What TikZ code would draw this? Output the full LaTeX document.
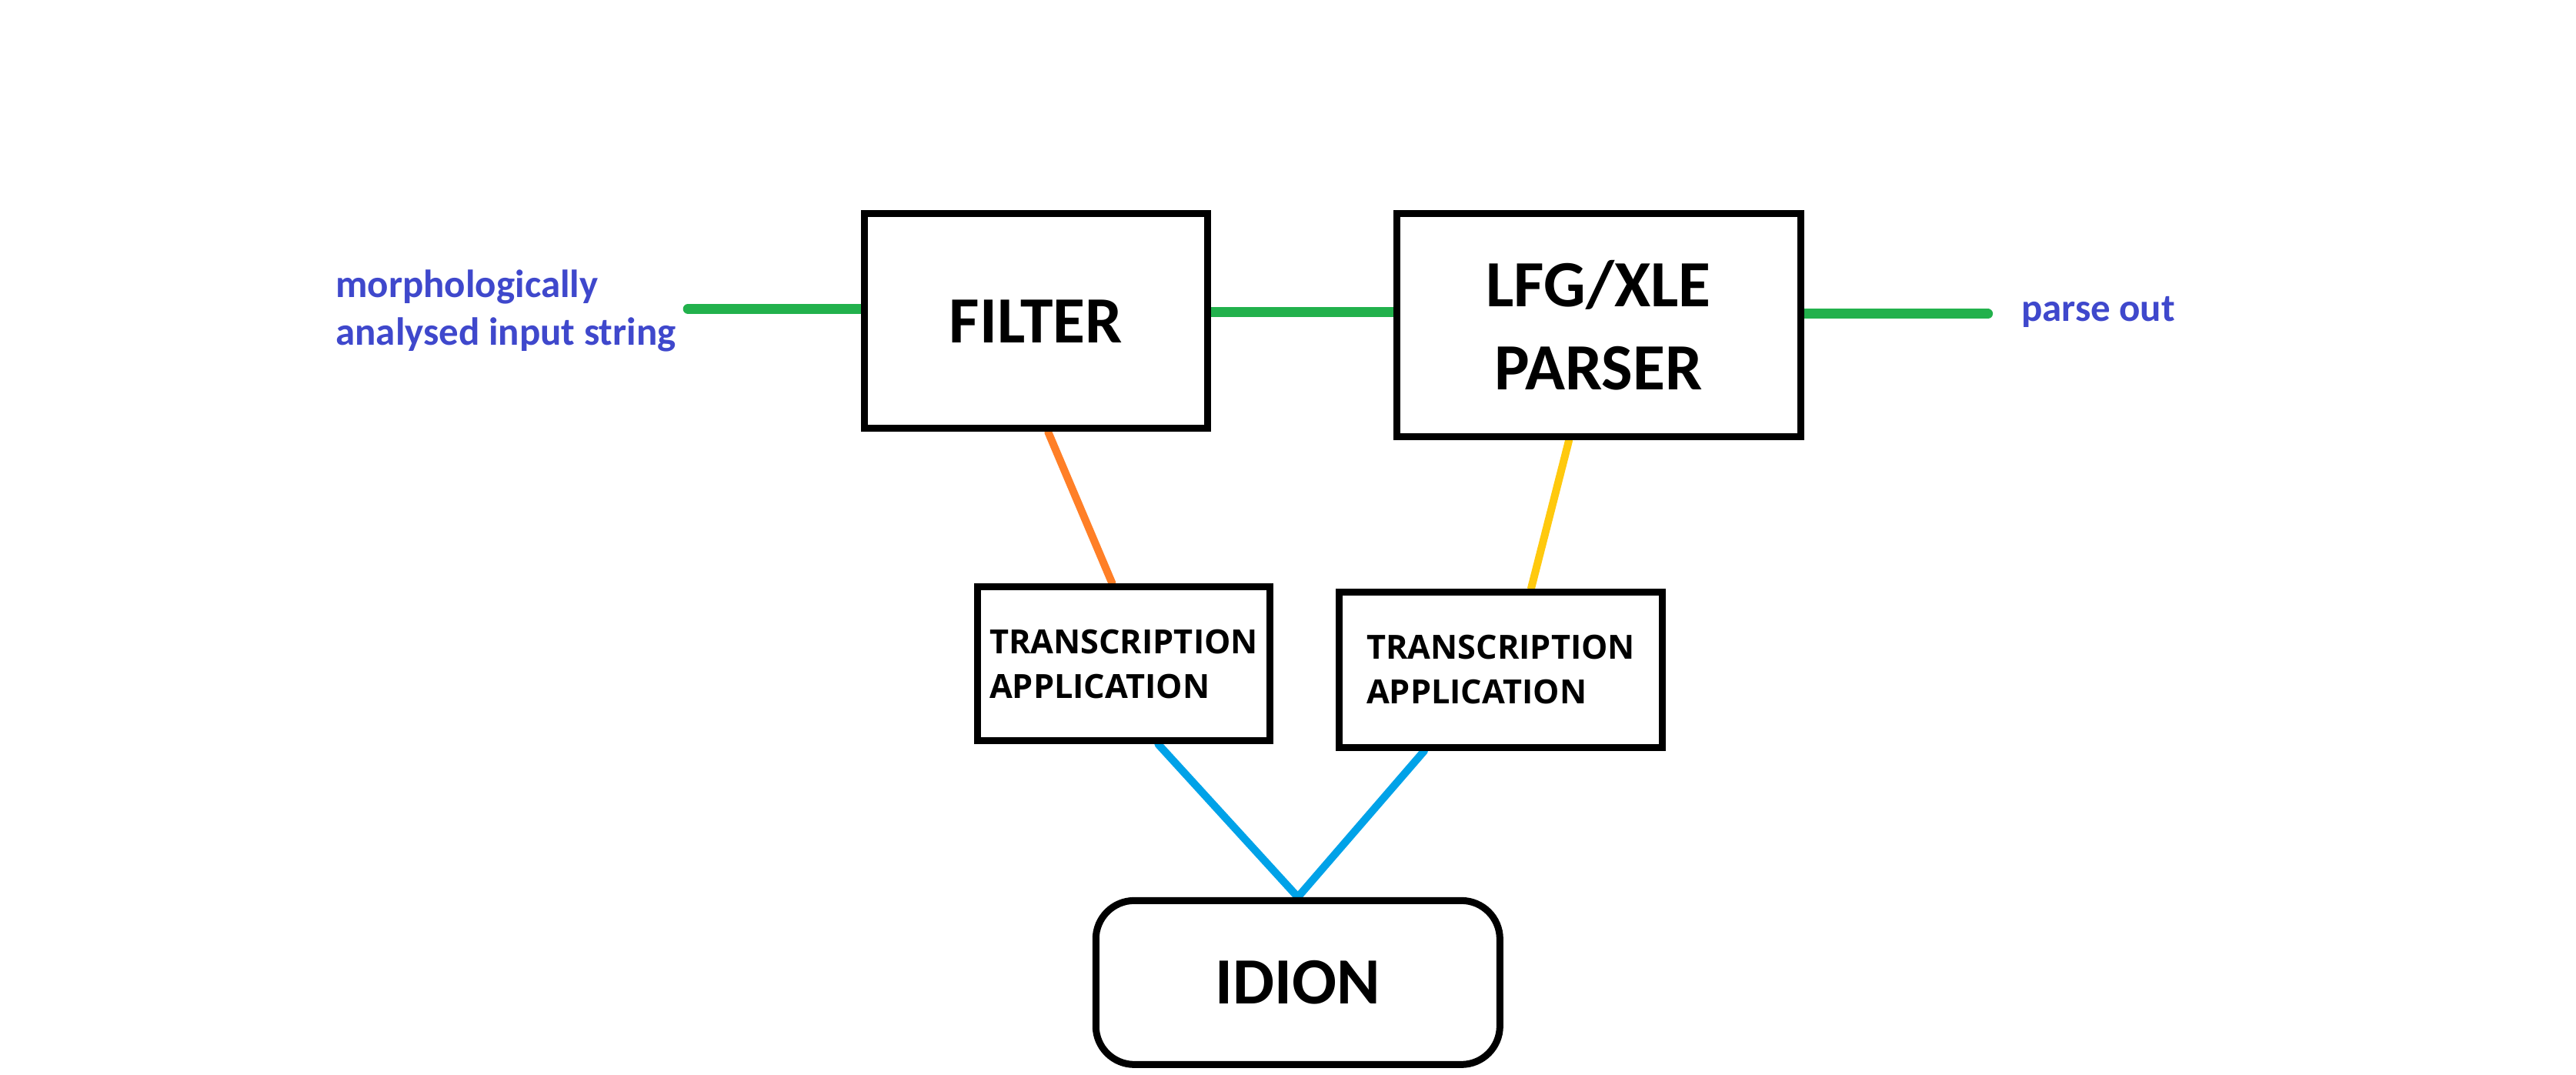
\documentclass[tikz,border=0pt]{standalone}
\usepackage{fontspec}
\setmainfont{Carlito}
\newfontfamily\appfont{Open Sans}
\usetikzlibrary{positioning}
\usetikzlibrary{calc}
\usetikzlibrary{backgrounds}

\definecolor{paintgreen}{HTML}{22B14C}
\definecolor{paintorange}{HTML}{FF7F27}
\definecolor{paintgold}{HTML}{FFC90E}
\definecolor{paintblue}{HTML}{00A2E8}
\definecolor{paintindigo}{HTML}{3F48CC}

\begin{document}
\begin{tikzpicture}[
    x=0.02135cm, y=-0.02135cm,
% Box styles
    block/.style={rectangle,draw=black,line width=0.09cm,fill=white,
		align=center,font={\fontsize{24.4pt}{30.5pt}\selectfont\bfseries}},
    appbox/.style={rectangle,draw=black,line width=0.09cm,fill=white,
		align=left,font={\appfont\fontsize{12.3pt}{16.5pt}\selectfont\bfseries}},
    store/.style={block,rounded corners=0.5cm},
% Label style
    note/.style={align=left,inner sep=0pt,text=paintindigo,
		font={\fontsize{14.5pt}{17.6pt}\selectfont\bfseries}},
    wire/.style={line width=0.13cm,line cap=round},
    thinwire/.style={line width=0.1cm,line cap=round}
    ]

  \useasboundingbox (0,0) rectangle (1568,654);

  \node (filter) [block,minimum width=4.46cm,minimum height=2.79cm] at (630.5,195.5) {FILTER};
  \node (parser) [block,minimum width=5.25cm,minimum height=2.90cm] at (973,198) {LFG/XLE\\PARSER};
  \node (transL) [appbox,minimum width=3.80cm,minimum height=2.00cm] at (684,404) {TRANSCRIPTION\\APPLICATION};
  \node (transR) [appbox,minimum width=4.20cm,minimum height=2.02cm] at (913.5,407.5) {TRANSCRIPTION\\APPLICATION};
  \node (idion) [store,minimum width=5.25cm,minimum height=2.13cm] at (790,598) {IDION};

  \node (input) [note,anchor=west] at (204,189) {morphologically\\analysed input string};
  \node (output) [note,anchor=west] at (1230,190) {parse out};

\begin{pgfonlayer}{background}
  \draw[wire,paintgreen] ($(input.east|-filter.west)+(7,-7.5)$) -- ($(filter.west)+(0,-7.5)$);
  \draw[wire,paintgreen] ($(filter.east)+(0,-5.5)$) -- ($(parser.west)+(0,-8)$);
  \draw[wire,paintgreen] ($(parser.east)+(0,-7)$) -- ($(output.west|-parser.east)+(-20,-7)$);

  \draw[thinwire,paintorange] ($(filter.south)+(7.5,0)$) -- ($(transL.north)+(-7,0)$);
  \draw[thinwire,paintgold] ($(parser.south)+(-18,0)$) -- ($(transR.north)+(18.5,0)$);

  \draw[thinwire,paintblue,line join=round] ($(transL.south)+(21,0)$) -- (idion.north) -- ($(transR.south)+(-46.5,0)$);
\end{pgfonlayer}

\end{tikzpicture}
\end{document}
